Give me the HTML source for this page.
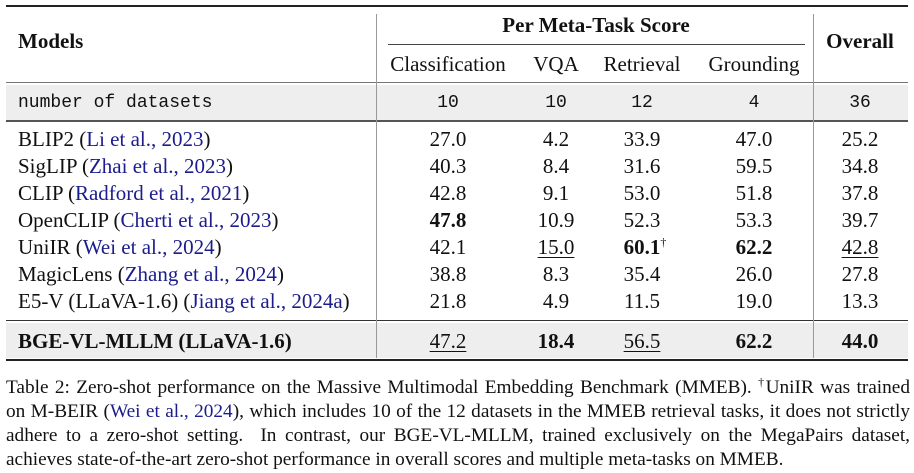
<!DOCTYPE html>
<html><head><meta charset="utf-8"><style>
body{margin:0;width:914px;height:473px;background:#fff;position:relative;overflow:hidden;font-family:"Liberation Serif",serif;color:#111}
.t{position:absolute;font-size:21px;line-height:22px;white-space:nowrap}
.c{transform:translateX(-50%)}
.m{font-family:"Liberation Mono",monospace;font-size:18px}
.b{font-weight:bold}
.u{text-decoration:underline;text-underline-offset:3px;text-decoration-thickness:1px}
a{color:#1c1c8c;text-decoration:none}
.r{position:absolute;left:6px;width:902px;background:#222}
.v{position:absolute;width:1px;background:#999}
.cl{position:absolute;left:6px;width:904px;font-size:19.3px;line-height:24px;text-align:justify;text-align-last:justify;white-space:nowrap}
</style></head><body>
<div style="position:absolute;left:6px;top:85px;width:902px;height:35px;background:#eee"></div>
<div style="position:absolute;left:6px;top:323px;width:902px;height:35px;background:#eee"></div>
<div class="r" style="top:5px;height:2px"></div>
<div class="r" style="top:82px;height:1px;background:#777"></div>
<div class="r" style="top:120px;height:2px;background:#555"></div>
<div class="r" style="top:320px;height:1px;background:#333"></div>
<div class="r" style="top:359px;height:2px"></div>
<div style="position:absolute;left:388px;top:44px;width:417px;height:1px;background:#444"></div>
<div class="v" style="left:376px;top:14px;height:344px"></div>
<div class="v" style="left:813px;top:14px;height:344px"></div>

<div class="t b" style="left:18px;top:30px">Models</div>
<div class="t b c" style="left:596px;top:14px">Per Meta-Task Score</div>
<div class="t b c" style="left:860px;top:30px">Overall</div>
<div class="t c" style="left:448px;top:53px">Classification</div>
<div class="t c" style="left:556px;top:53px">VQA</div>
<div class="t c" style="left:642px;top:53px">Retrieval</div>
<div class="t c" style="left:754px;top:53px">Grounding</div>

<div class="t m" style="left:18px;top:92px">number of datasets</div>
<div class="t m c" style="left:448px;top:92px">10</div>
<div class="t m c" style="left:556px;top:92px">10</div>
<div class="t m c" style="left:642px;top:92px">12</div>
<div class="t m c" style="left:754px;top:92px">4</div>
<div class="t m c" style="left:860px;top:92px">36</div>

<div class="t" style="left:18px;top:128px">BLIP2 (<a>Li et al., 2023</a>)</div>
<div class="t c" style="left:448px;top:128px">27.0</div><div class="t c" style="left:556px;top:128px">4.2</div><div class="t c" style="left:642px;top:128px">33.9</div><div class="t c" style="left:754px;top:128px">47.0</div><div class="t c" style="left:860px;top:128px">25.2</div>

<div class="t" style="left:18px;top:155px">SigLIP (<a>Zhai et al., 2023</a>)</div>
<div class="t c" style="left:448px;top:155px">40.3</div><div class="t c" style="left:556px;top:155px">8.4</div><div class="t c" style="left:642px;top:155px">31.6</div><div class="t c" style="left:754px;top:155px">59.5</div><div class="t c" style="left:860px;top:155px">34.8</div>

<div class="t" style="left:18px;top:182px">CLIP (<a>Radford et al., 2021</a>)</div>
<div class="t c" style="left:448px;top:182px">42.8</div><div class="t c" style="left:556px;top:182px">9.1</div><div class="t c" style="left:642px;top:182px">53.0</div><div class="t c" style="left:754px;top:182px">51.8</div><div class="t c" style="left:860px;top:182px">37.8</div>

<div class="t" style="left:18px;top:209px">OpenCLIP (<a>Cherti et al., 2023</a>)</div>
<div class="t c b" style="left:448px;top:209px">47.8</div><div class="t c" style="left:556px;top:209px">10.9</div><div class="t c" style="left:642px;top:209px">52.3</div><div class="t c" style="left:754px;top:209px">53.3</div><div class="t c" style="left:860px;top:209px">39.7</div>

<div class="t" style="left:18px;top:236px">UniIR (<a>Wei et al., 2024</a>)</div>
<div class="t c" style="left:448px;top:236px">42.1</div><div class="t c u" style="left:556px;top:236px">15.0</div><div class="t c" style="left:645px;top:236px"><b>60.1</b><sup style="font-size:12px;vertical-align:8px;line-height:0">†</sup></div><div class="t c b" style="left:754px;top:236px">62.2</div><div class="t c u" style="left:860px;top:236px">42.8</div>

<div class="t" style="left:18px;top:263px">MagicLens (<a>Zhang et al., 2024</a>)</div>
<div class="t c" style="left:448px;top:263px">38.8</div><div class="t c" style="left:556px;top:263px">8.3</div><div class="t c" style="left:642px;top:263px">35.4</div><div class="t c" style="left:754px;top:263px">26.0</div><div class="t c" style="left:860px;top:263px">27.8</div>

<div class="t" style="left:18px;top:290px">E5-V (LLaVA-1.6) (<a>Jiang et al., 2024a</a>)</div>
<div class="t c" style="left:448px;top:290px">21.8</div><div class="t c" style="left:556px;top:290px">4.9</div><div class="t c" style="left:642px;top:290px">11.5</div><div class="t c" style="left:754px;top:290px">19.0</div><div class="t c" style="left:860px;top:290px">13.3</div>

<div class="t b" style="left:18px;top:330px">BGE-VL-MLLM (LLaVA-1.6)</div>
<div class="t c u" style="left:448px;top:330px">47.2</div><div class="t c b" style="left:556px;top:330px">18.4</div><div class="t c u" style="left:642px;top:330px">56.5</div><div class="t c b" style="left:754px;top:330px">62.2</div><div class="t c b" style="left:860px;top:330px">44.0</div>

<div class="cl" style="top:376px">Table 2: Zero-shot performance on the Massive Multimodal Embedding Benchmark (MMEB). <sup style="font-size:12px;vertical-align:7px;line-height:0">†</sup>UniIR was trained</div>
<div class="cl" style="top:400px">on M-BEIR (<a>Wei et al., 2024</a>), which includes 10 of the 12 datasets in the MMEB retrieval tasks, it does not strictly</div>
<div class="cl" style="top:424px">adhere to a zero-shot setting.&nbsp; In contrast, our BGE-VL-MLLM, trained exclusively on the MegaPairs dataset,</div>
<div class="cl" style="top:448px;text-align-last:left">achieves state-of-the-art zero-shot performance in overall scores and multiple meta-tasks on MMEB.</div>
</body></html>
